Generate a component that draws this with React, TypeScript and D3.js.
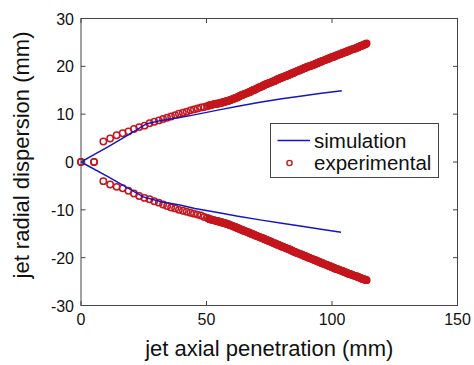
import React from "react";
import * as d3 from "d3";

// ---- data ----
const xTicks = [0, 50, 100, 150];
const yTicks = [-30, -20, -10, 0, 10, 20, 30];

// simulation (upper and lower branches)
const simUpperX = [0, 5, 10.9, 18, 26.2, 32, 39.4, 44.1, 55, 62, 71.3, 80, 87.3, 95, 103.9];
const simUpperY = [0, 1.5, 3.2, 5.4, 8.0, 8.7, 9.3, 9.75, 10.9, 11.6, 12.5, 13.2, 13.75, 14.3, 14.9];
const simLowerX = [0, 10.9, 24.8, 32, 39.4, 45.4, 55, 62, 71.3, 80, 87.3, 95, 103.6];
const simLowerY = [0, -3.1, -7.3, -8.3, -9.0, -9.7, -10.6, -11.3, -12.1, -12.8, -13.4, -14.0, -14.7];

// experimental, first set: axial positions (shared by both branches)
const expX = [
  0, 5.2, 8.9, 11.6, 14.2, 16.6, 18.9, 21.1, 23.2, 25.3, 27.3, 29.2, 31.0, 32.7, 34.3, 35.9, 37.5,
  39.0, 40.6, 42.1, 43.6, 45.0, 46.4, 47.8, 49.1, 50.4,
  51.0, 51.7, 52.4, 53.1, 53.8, 54.5, 55.2, 55.9, 56.6, 57.3, 58.0, 58.7, 59.4, 60.1, 60.8, 61.5,
  62.2, 62.9, 63.6, 64.3, 65.0, 65.7, 66.4, 67.1, 67.8, 68.5, 69.2, 69.9, 70.6, 71.3, 72.0, 72.7,
  73.4, 74.1, 74.8, 75.5, 76.2, 76.9, 77.6, 78.3, 79.0, 79.7, 80.4, 81.1, 81.8, 82.5, 83.2, 83.9,
  84.6, 85.3, 86.0, 86.7, 87.4, 88.1, 88.8, 89.5, 90.2, 90.9, 91.6, 92.3, 93.0, 93.7, 94.4, 95.1,
  95.8, 96.5, 97.2, 97.9, 98.6, 99.3, 100.0, 100.7, 101.4, 102.1, 102.8, 103.5, 104.2, 104.9,
  105.6, 106.3, 107.0, 107.7, 108.4, 109.1, 109.8, 110.5, 111.2, 111.9, 112.6, 113.3, 113.8,
];
const expUpperY = [
  0, 0, 4.3, 4.9, 5.6, 6.0, 6.4, 6.9, 7.3, 7.6, 8.1, 8.4, 8.7, 9.0, 9.25, 9.5, 9.8,
  10.1, 10.3, 10.5, 10.8, 11.0, 11.2, 11.4, 11.5, 11.7,
  11.8, 11.9, 12.0, 12.1, 12.2, 12.2, 12.3, 12.4, 12.5, 12.6, 12.7, 12.8, 12.9, 13.1, 13.2, 13.4,
  13.5, 13.7, 13.9, 14.0, 14.2, 14.3, 14.5, 14.6, 14.8, 15.0, 15.1, 15.3, 15.5, 15.7, 15.8, 16.0,
  16.2, 16.3, 16.5, 16.6, 16.8, 16.9, 17.1, 17.3, 17.4, 17.6, 17.7, 17.9, 18.0, 18.2, 18.3, 18.5,
  18.6, 18.8, 19.0, 19.1, 19.3, 19.4, 19.6, 19.7, 19.9, 20.0, 20.1, 20.3, 20.4, 20.6, 20.7, 20.9,
  21.0, 21.2, 21.3, 21.5, 21.6, 21.8, 21.9, 22.0, 22.2, 22.3, 22.5, 22.6, 22.8, 22.9,
  23.0, 23.2, 23.3, 23.5, 23.6, 23.7, 23.9, 24.0, 24.2, 24.3, 24.5, 24.6, 24.8,
];
const expLowerY = [
  0, 0, -4.0, -4.7, -5.2, -5.5, -6.0, -6.6, -7.1, -7.5, -7.8, -8.2, -8.5, -8.9, -9.2, -9.5, -9.7,
  -10.0, -10.2, -10.4, -10.6, -10.8, -11.0, -11.2, -11.5, -11.7,
  -11.9, -12.0, -12.1, -12.2, -12.3, -12.4, -12.5, -12.6, -12.7, -12.8, -12.9, -13.0, -13.2, -13.3, -13.5, -13.6,
  -13.8, -13.9, -14.1, -14.2, -14.4, -14.5, -14.7, -14.8, -15.0, -15.1, -15.3, -15.4, -15.6, -15.7, -15.9, -16.0,
  -16.2, -16.3, -16.5, -16.6, -16.8, -17.0, -17.1, -17.3, -17.4, -17.6, -17.7, -17.9, -18.0, -18.2, -18.3, -18.5,
  -18.7, -18.8, -19.0, -19.1, -19.3, -19.4, -19.6, -19.7, -19.9, -20.0, -20.2, -20.3, -20.5, -20.6, -20.8, -20.9,
  -21.1, -21.2, -21.4, -21.5, -21.7, -21.8, -22.0, -22.1, -22.3, -22.4, -22.5, -22.7, -22.8, -23.0,
  -23.1, -23.3, -23.4, -23.5, -23.7, -23.8, -23.9, -24.1, -24.2, -24.4, -24.5, -24.6, -24.7,
];

// experimental, second (interleaved) set in the dense region
const expX2 = [
  51.35, 52.05, 52.75, 53.45, 54.15, 54.85, 55.55, 56.25, 56.95, 57.65, 58.35, 59.05, 59.75, 60.45,
  61.15, 61.85, 62.55, 63.25, 63.95, 64.65, 65.35, 66.05, 66.75, 67.45, 68.15, 68.85, 69.55, 70.25,
  70.95, 71.65, 72.35, 73.05, 73.75, 74.45, 75.15, 75.85, 76.55, 77.25, 77.95, 78.65, 79.35, 80.05,
  80.75, 81.45, 82.15, 82.85, 83.55, 84.25, 84.95, 85.65, 86.35, 87.05, 87.75, 88.45, 89.15, 89.85,
  90.55, 91.25, 91.95, 92.65, 93.35, 94.05, 94.75, 95.45, 96.15, 96.85, 97.55, 98.25, 98.95, 99.65,
  100.35, 101.05, 101.75, 102.45, 103.15, 103.85, 104.55, 105.25, 105.95, 106.65, 107.35, 108.05,
  108.75, 109.45, 110.15, 110.85, 111.55, 112.25, 112.95, 113.55,
];
const expUpperY2 = [
  11.85, 11.95, 12.05, 12.15, 12.2, 12.25, 12.35, 12.45, 12.55, 12.65, 12.75, 12.85, 13.0, 13.15,
  13.3, 13.45, 13.6, 13.8, 13.95, 14.1, 14.25, 14.4, 14.55, 14.7, 14.9, 15.05, 15.2, 15.4,
  15.6, 15.75, 15.9, 16.1, 16.25, 16.4, 16.55, 16.7, 16.85, 17.0, 17.2, 17.35, 17.5, 17.65,
  17.8, 17.95, 18.1, 18.25, 18.4, 18.55, 18.7, 18.9, 19.05, 19.2, 19.35, 19.5, 19.65, 19.8,
  19.95, 20.05, 20.2, 20.35, 20.5, 20.65, 20.8, 20.95, 21.1, 21.25, 21.4, 21.55, 21.7, 21.85,
  21.95, 22.1, 22.25, 22.4, 22.55, 22.7, 22.85, 22.95, 23.1, 23.25, 23.4, 23.55,
  23.65, 23.8, 23.95, 24.1, 24.25, 24.4, 24.55, 24.7,
];
const expLowerY2 = [
  -11.95, -12.05, -12.15, -12.25, -12.35, -12.45, -12.55, -12.65, -12.75, -12.85, -12.95, -13.1, -13.25, -13.4,
  -13.55, -13.7, -13.85, -14.0, -14.15, -14.3, -14.45, -14.6, -14.75, -14.9, -15.05, -15.2, -15.35, -15.5,
  -15.65, -15.8, -15.95, -16.1, -16.25, -16.4, -16.55, -16.7, -16.9, -17.05, -17.2, -17.35, -17.5, -17.65,
  -17.8, -17.95, -18.1, -18.25, -18.4, -18.6, -18.75, -18.9, -19.05, -19.2, -19.35, -19.5, -19.65, -19.8,
  -19.95, -20.1, -20.25, -20.4, -20.55, -20.7, -20.85, -21.0, -21.15, -21.3, -21.45, -21.6, -21.75, -21.9,
  -22.05, -22.2, -22.35, -22.45, -22.6, -22.75, -22.9, -23.05, -23.2, -23.35, -23.45, -23.6,
  -23.75, -23.85, -24.0, -24.15, -24.3, -24.45, -24.55, -24.65,
];

const xLabel = "jet axial penetration (mm)";
const yLabel = "jet radial dispersion (mm)";
const legendLabels = ["simulation", "experimental"];

// ---- styling ----
const W = 474;
const H = 365;
const M = { left: 81, right: 474 - 457.5, top: 18.5, bottom: 365 - 305.5 };
const FONT = "'Liberation Sans', Arial, Helvetica, sans-serif";
const BLUE = "#1515c8";
const RED = "#c4161c";
const AXIS = "#444";

export default function App() {
  const x = d3.scaleLinear().domain([0, 150]).range([M.left, W - M.right]);
  const y = d3.scaleLinear().domain([-30, 30]).range([H - M.bottom, M.top]);

  const simPath = (xs: number[], ys: number[]) =>
    d3
      .line<[number, number]>()
      .x((d) => x(d[0]))
      .y((d) => y(d[1]))(xs.map((v, i) => [v, ys[i]] as [number, number])) || "";

  const pts: [number, number][] = [
    ...expX.map((v, i) => [v, expUpperY[i]] as [number, number]),
    ...expX.map((v, i) => [v, expLowerY[i]] as [number, number]),
    ...expX2.map((v, i) => [v, expUpperY2[i]] as [number, number]),
    ...expX2.map((v, i) => [v, expLowerY2[i]] as [number, number]),
  ];

  const x0 = x.range()[0];
  const x1 = x.range()[1];
  const y0 = y.range()[0];
  const y1 = y.range()[1];
  const tick = 4.5;

  return (
    <svg
      width={W}
      height={H}
      style={{ position: "absolute", left: 0, top: 0, background: "#fff" }}
      fontFamily={FONT}
    >
      <rect x={0} y={0} width={W} height={H} fill="#fff" />
      {/* experimental markers */}
      <g fill="none" stroke={RED} strokeWidth={1.5}>
        {pts.map((p, i) => (
          <circle key={i} cx={x(p[0])} cy={y(p[1])} r={3.2} />
        ))}
      </g>
      {/* simulation lines */}
      <path d={simPath(simUpperX, simUpperY)} fill="none" stroke={BLUE} strokeWidth={1.5} />
      <path d={simPath(simLowerX, simLowerY)} fill="none" stroke={BLUE} strokeWidth={1.5} />

      {/* axes box */}
      <rect x={x0} y={y1} width={x1 - x0} height={y0 - y1} fill="none" stroke={AXIS} strokeWidth={1} />
      {xTicks.map((t) => (
        <g key={"xt" + t}>
          <line x1={x(t)} x2={x(t)} y1={y0} y2={y0 - tick} stroke={AXIS} />
          <line x1={x(t)} x2={x(t)} y1={y1} y2={y1 + tick} stroke={AXIS} />
          <text x={x(t)} y={y0 + 19.5} textAnchor="middle" fontSize={16} fill="#111">
            {t}
          </text>
        </g>
      ))}
      {yTicks.map((t) => (
        <g key={"yt" + t}>
          <line x1={x0} x2={x0 + tick} y1={y(t)} y2={y(t)} stroke={AXIS} />
          <line x1={x1} x2={x1 - tick} y1={y(t)} y2={y(t)} stroke={AXIS} />
          <text x={x0 - 7} y={y(t) + 6} textAnchor="end" fontSize={16} fill="#111">
            {t}
          </text>
        </g>
      ))}

      {/* axis titles */}
      <text x={(x0 + x1) / 2} y={356} textAnchor="middle" fontSize={22} fill="#111">
        {xLabel}
      </text>
      <text
        transform={`translate(29,155) rotate(-90)`}
        textAnchor="middle"
        fontSize={22}
        fill="#111"
      >
        {yLabel}
      </text>

      {/* legend */}
      <rect x={270.5} y={123.5} width={168} height={54} fill="#fff" stroke={AXIS} strokeWidth={1} />
      <line x1={277.5} x2={310} y1={140.5} y2={140.5} stroke={BLUE} strokeWidth={1.5} />
      <text x={314} y={148} fontSize={20.5} fill="#111">
        {legendLabels[0]}
      </text>
      <circle cx={289.5} cy={163} r={2.6} fill="none" stroke={RED} strokeWidth={1.4} />
      <text x={314} y={170} fontSize={20.5} fill="#111">
        {legendLabels[1]}
      </text>
    </svg>
  );
}
